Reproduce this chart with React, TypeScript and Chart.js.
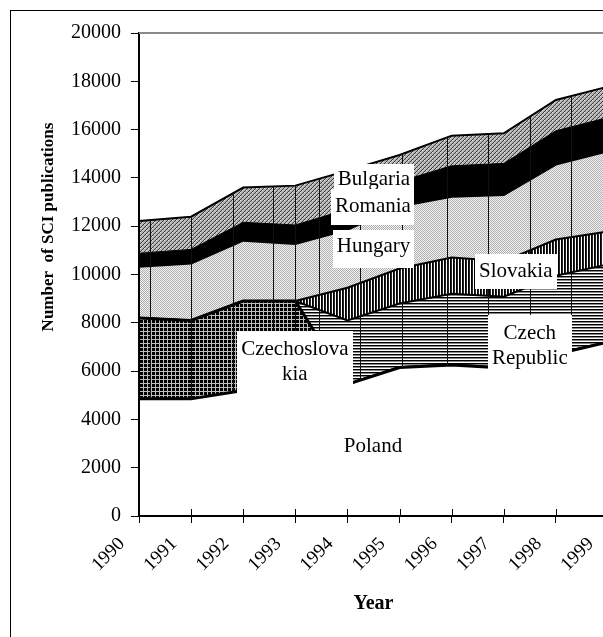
import React, { useEffect, useRef } from 'react';
import { Chart, registerables } from 'chart.js';

Chart.register(...registerables);

// ---------- data ----------
const years = ['1990', '1991', '1992', '1993', '1994', '1995', '1996', '1997', '1998', '1999'];
const poland = [4850, 4850, 5200, 5350, 5450, 6150, 6250, 6130, 6700, 7200];
const czechoslovakia = [3350, 3250, 3700, 3550, 0, 0, 0, 0, 0, 0];
const czechRepublic = [0, 0, 0, 0, 2650, 2650, 2950, 2950, 3250, 3220];
const slovakia = [0, 0, 0, 0, 1350, 1450, 1500, 1470, 1500, 1360];
const hungary = [2120, 2360, 2500, 2360, 2400, 2570, 2520, 2740, 3100, 3320];
const romania = [560, 580, 760, 790, 850, 1030, 1280, 1310, 1400, 1400];
const bulgaria = [1335, 1355, 1440, 1630, 1600, 1100, 1250, 1250, 1275, 1280];

const yMin = 0;
const yMax = 20000;
const yStep = 2000;

const yTitle = 'Number  of SCI publications';
const xTitle = 'Year';

// area labels: text lines, anchor (category index, value)
const areaLabels = [
  { lines: ['Bulgaria'], at: [4.51, 13926], box: [80, 26, -3] },
  { lines: ['Romania'], at: [4.49, 12824], box: [83, 36, 1] },
  { lines: ['Hungary'], at: [4.5, 11168], box: [81, 38, 3] },
  { lines: ['Slovakia'], at: [7.23, 10132], box: [82, 35, 0] },
  { lines: ['Czechoslova', 'kia'], at: [2.99, 6369], box: [116, 64, 1] },
  { lines: ['Czech', 'Republic'], at: [7.5, 7060], box: [84, 57, -2] },
  { lines: ['Poland'], at: [4.49, 2899], box: null as null | number[] },
];

// thin drop lines inside the stacked band (category index)
const dropLines = [0.22, 1.0, 1.8, 2.57, 3.0, 3.45, 4.24, 5.04, 5.91, 6.7, 7.5, 8.29];

const SERIF = '"Liberation Serif", "Times New Roman", serif';

function makeTile(ctx: CanvasRenderingContext2D, w: number, h: number, draw: (g: CanvasRenderingContext2D) => void) {
  const c = document.createElement('canvas');
  c.width = w;
  c.height = h;
  const g = c.getContext('2d')!;
  draw(g);
  return ctx.createPattern(c, 'repeat')!;
}

function px(g: CanvasRenderingContext2D, x: number, y: number, col: string) {
  g.fillStyle = col;
  g.fillRect(x, y, 1, 1);
}

function makePatterns(ctx: CanvasRenderingContext2D) {
  const bulg = makeTile(ctx, 4, 4, (g) => {
    g.fillStyle = '#b4b4b4';
    g.fillRect(0, 0, 4, 4);
    for (let i = 0; i < 4; i++) px(g, i, 3 - i, '#3c3c3c');
    px(g, 0, 0, '#e0e0e0');
    px(g, 2, 2, '#e0e0e0');
  });
  const hung = makeTile(ctx, 2, 2, (g) => {
    g.fillStyle = '#f2f2f2';
    g.fillRect(0, 0, 2, 2);
    px(g, 0, 0, '#b0b0b0');
    px(g, 1, 1, '#b0b0b0');
  });
  const slov = makeTile(ctx, 3, 1, (g) => {
    g.fillStyle = '#ffffff';
    g.fillRect(0, 0, 3, 1);
    px(g, 0, 0, '#000');
    px(g, 1, 0, '#222');
  });
  const czech = makeTile(ctx, 1, 3, (g) => {
    g.fillStyle = '#ffffff';
    g.fillRect(0, 0, 1, 3);
    px(g, 0, 0, '#000');
    px(g, 0, 1, '#888');
  });
  const czsl = makeTile(ctx, 4, 4, (g) => {
    g.fillStyle = '#000';
    g.fillRect(0, 0, 4, 4);
    g.fillStyle = '#bdbdbd';
    g.fillRect(3, 0, 1, 4);
    g.fillRect(0, 3, 4, 1);
  });
  return { bulg, hung, slov, czech, czsl };
}

const overlayPlugin = {
  id: 'overlay',
  afterDatasetsDraw(chart: any) {
    const { ctx, chartArea, scales } = chart;
    const x = scales.x;
    const y = scales.y;
    const n = chart.data.datasets.length;
    const topPts = chart.getDatasetMeta(n - 1).data;
    const botPts = chart.getDatasetMeta(0).data;

    // drop lines clipped to stacked band
    ctx.save();
    ctx.beginPath();
    ctx.rect(chartArea.left, chartArea.top, chartArea.right - chartArea.left, chartArea.bottom - chartArea.top);
    ctx.clip();
    ctx.beginPath();
    topPts.forEach((p: any, i: number) => (i ? ctx.lineTo(p.x, p.y) : ctx.moveTo(p.x, p.y)));
    for (let i = botPts.length - 1; i >= 0; i--) ctx.lineTo(botPts[i].x, botPts[i].y);
    ctx.closePath();
    ctx.clip();
    ctx.strokeStyle = '#111';
    ctx.lineWidth = 1;
    dropLines.forEach((v) => {
      const xx = Math.round(x.getPixelForValue(v)) + 0.5;
      ctx.beginPath();
      ctx.moveTo(xx, chartArea.top);
      ctx.lineTo(xx, chartArea.bottom);
      ctx.stroke();
    });
    ctx.restore();

    // label boxes + text
    ctx.save();
    ctx.font = '21px ' + SERIF;
    ctx.textAlign = 'center';
    ctx.textBaseline = 'middle';
    const lh = 25;
    areaLabels.forEach((l) => {
      const cx = x.getPixelForValue(l.at[0]);
      const cy = y.getPixelForValue(l.at[1]);
      if (l.box) {
        const [w, h, dy] = l.box;
        ctx.fillStyle = '#fff';
        ctx.fillRect(Math.round(cx - w / 2), Math.round(cy + dy - h / 2), w, h);
      }
      ctx.fillStyle = '#000';
      const y0 = cy - ((l.lines.length - 1) * lh) / 2;
      l.lines.forEach((t, i) => ctx.fillText(t, cx, y0 + i * lh));
    });
    ctx.restore();
  },
  afterDraw(chart: any) {
    const { ctx, chartArea, scales } = chart;
    const x = scales.x;
    ctx.save();
    // top frame line of plot
    ctx.strokeStyle = '#8a8a8a';
    ctx.lineWidth = 2;
    ctx.beginPath();
    ctx.moveTo(chartArea.left, chartArea.top);
    ctx.lineTo(chartArea.right + 40, chartArea.top);
    ctx.stroke();
    // inner part of x ticks
    ctx.strokeStyle = '#000';
    ctx.lineWidth = 1;
    for (let i = 0; i < x.ticks.length; i++) {
      const xx = Math.round(x.getPixelForTick(i)) + 0.5;
      ctx.beginPath();
      ctx.moveTo(xx, chartArea.bottom - 7);
      ctx.lineTo(xx, chartArea.bottom);
      ctx.stroke();
    }
    // y axis title
    ctx.fillStyle = '#000';
    ctx.font = 'bold 17px ' + SERIF;
    ctx.textAlign = 'center';
    ctx.textBaseline = 'middle';
    ctx.translate(49, 227);
    ctx.rotate(-Math.PI / 2);
    ctx.fillText(yTitle, 0, 0);
    ctx.setTransform(1, 0, 0, 1, 0, 0);
    // outer frame
    ctx.strokeStyle = '#000';
    ctx.lineWidth = 1;
    ctx.strokeRect(10.5, 10.5, 700, 700);
    ctx.restore();
  },
};

export default function App() {
  const ref = useRef<HTMLCanvasElement>(null);

  useEffect(() => {
    const canvas = ref.current!;
    const ctx = canvas.getContext('2d')!;
    const p = makePatterns(ctx);

    const series = [
      { label: 'Poland', data: poland, bg: '#ffffff', bw: 3 },
      { label: 'Czechoslovakia', data: czechoslovakia, bg: p.czsl, bw: 3 },
      { label: 'Czech Republic', data: czechRepublic, bg: p.czech, bw: 2 },
      { label: 'Slovakia', data: slovakia, bg: p.slov, bw: 2 },
      { label: 'Hungary', data: hungary, bg: p.hung, bw: 2 },
      { label: 'Romania', data: romania, bg: '#000000', bw: 1 },
      { label: 'Bulgaria', data: bulgaria, bg: p.bulg, bw: 2 },
    ];

    const chart = new Chart(ctx, {
      type: 'line',
      data: {
        labels: years,
        datasets: series.map((s, i) => ({
          label: s.label,
          data: s.data,
          backgroundColor: s.bg as any,
          borderColor: '#000',
          borderWidth: s.bw,
          pointRadius: 0,
          tension: 0,
          fill: i === 0 ? 'origin' : '-1',
        })),
      },
      options: {
        responsive: false,
        animation: false,
        devicePixelRatio: 1,
        layout: { padding: { left: 0, top: 33, right: 32, bottom: 24 } },
        plugins: {
          legend: { display: false },
          tooltip: { enabled: false },
        },
        scales: {
          x: {
            type: 'category',
            offset: false,
            afterFit: (s: any) => {
              s.height = 100;
            },
            grid: { drawOnChartArea: false, drawTicks: true, tickLength: 7, tickColor: '#000', color: '#000' },
            border: { display: true, color: '#000', width: 2, z: 1 },
            ticks: {
              color: '#000',
              font: { family: SERIF, size: 19 },
              minRotation: 45,
              maxRotation: 45,
              autoSkip: false,
              padding: 10,
              labelOffset: -17,
            },
            title: {
              display: true,
              text: xTitle,
              color: '#000',
              font: { family: SERIF, size: 20, weight: 'bold' },
              padding: { top: 0, bottom: 0 },
            },
          },
          y: {
            stacked: true,
            min: yMin,
            max: yMax,
            afterFit: (s: any) => {
              s.width = 139;
            },
            grid: { drawOnChartArea: false, drawTicks: true, tickLength: 8, tickColor: '#000', color: '#000' },
            border: { display: true, color: '#000', width: 2, z: 1 },
            ticks: {
              stepSize: yStep,
              color: '#000',
              font: { family: SERIF, size: 20 },
              padding: 10,
              callback: (v: any) => String(v),
            },
          },
        },
      },
      plugins: [overlayPlugin],
    });

    return () => chart.destroy();
  }, []);

  return (
    <div
      style={{
        position: 'fixed',
        left: 0,
        top: 0,
        width: '100vw',
        height: '100vh',
        overflow: 'hidden',
        background: '#fff',
      }}
    >
      <canvas
        ref={ref}
        width={640}
        height={640}
        style={{ position: 'absolute', left: 0, top: 0, width: 640, height: 640 }}
      />
    </div>
  );
}
